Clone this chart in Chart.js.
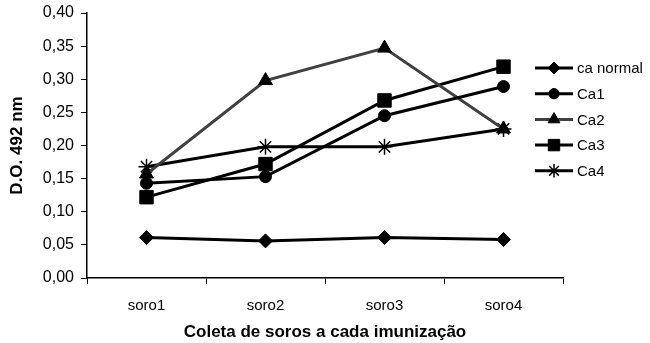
<!DOCTYPE html>
<html>
<head>
<meta charset="utf-8">
<script src="https://cdn.jsdelivr.net/npm/chart.js@4.4.1/dist/chart.umd.min.js"></script>
<style>
  html, body { margin: 0; padding: 0; background: #fff; }
  #wrap { width: 650px; height: 343px; position: relative; }
</style>
</head>
<body>
<div id="wrap"><canvas id="chart" width="650" height="343"></canvas></div>
<script>
// chart data
const categories = ['soro1', 'soro2', 'soro3', 'soro4'];
const seriesNames = ['ca normal', 'Ca1', 'Ca2', 'Ca3', 'Ca4'];
const caNormal = [0.061, 0.056, 0.061, 0.058];
const ca1 = [0.143, 0.153, 0.245, 0.289];
const ca2 = [0.157, 0.298, 0.347, 0.225];
const ca3 = [0.122, 0.172, 0.268, 0.319];
const ca4 = [0.168, 0.198, 0.198, 0.225];
const yTicks = [0, 0.05, 0.10, 0.15, 0.20, 0.25, 0.30, 0.35, 0.40];

const FONT = '"Liberation Sans", Arial, sans-serif';

function makeSet(label, data, style, radius, lineColor) {
    return {
        label: label,
        data: data,
        borderColor: lineColor || '#000',
        backgroundColor: '#000',
        pointBackgroundColor: '#000',
        pointBorderColor: '#000',
        pointBorderWidth: style === 'star' ? 1.5 : 1,
        pointStyle: style,
        pointRadius: radius,
        borderWidth: 3,
        tension: 0
    };
}

// Legend drawn at the right, like the original
const sideLegend = {
    id: 'sideLegend',
    afterDraw(chart) {
        const ctx = chart.ctx;
        const x0 = 535, x1 = 573, top = 68, step = 25.7;
        ctx.save();
        chart.data.datasets.forEach((ds, i) => {
            const y = top + i * step;
            ctx.strokeStyle = ds.borderColor;
            ctx.lineWidth = 3;
            ctx.beginPath();
            ctx.moveTo(x0, y);
            ctx.lineTo(x1, y);
            ctx.stroke();
            ctx.fillStyle = '#000';
            ctx.strokeStyle = '#000';
            ctx.lineWidth = ds.pointBorderWidth;
            Chart.helpers.drawPoint(ctx, {
                pointStyle: ds.pointStyle,
                radius: ds.pointRadius * 0.85,
                rotation: 0,
                borderWidth: ds.pointBorderWidth
            }, (x0 + x1) / 2, y);
            ctx.fillStyle = '#000';
            ctx.font = '15px ' + FONT;
            ctx.textBaseline = 'middle';
            ctx.textAlign = 'left';
            ctx.fillText(ds.label, x1 + 4, y + 1);
        });
        ctx.restore();
    }
};

const ctx = document.getElementById('chart').getContext('2d');
new Chart(ctx, {
    type: 'line',
    data: {
        labels: categories,
        datasets: [
            makeSet(seriesNames[0], caNormal, 'rectRot', 7),
            makeSet(seriesNames[1], ca1, 'circle', 6),
            makeSet(seriesNames[2], ca2, 'triangle', 8, '#404040'),
            makeSet(seriesNames[3], ca3, 'rect', 9.5),
            makeSet(seriesNames[4], ca4, 'star', 8)
        ]
    },
    plugins: [sideLegend],
    options: {
        responsive: false,
        animation: false,
        layout: { padding: { left: 0, right: 87, top: 13, bottom: 0 } },
        plugins: {
            legend: { display: false },
            tooltip: { enabled: false }
        },
        scales: {
            x: {
                offset: true,
                grid: {
                    offset: true,
                    drawOnChartArea: false,
                    drawTicks: true,
                    tickLength: 6,
                    color: '#000'
                },
                border: { color: '#000', width: 1.5 },
                ticks: {
                    color: '#000',
                    font: { family: FONT, size: 15 },
                    padding: 13,
                    maxRotation: 0
                },
                title: {
                    display: true,
                    text: 'Coleta de soros a cada imunização',
                    color: '#000',
                    font: { family: FONT, size: 17, weight: 'bold' },
                    padding: { top: 2, bottom: 0 }
                },
                afterFit(scale) { scale.height = 65; }
            },
            y: {
                min: 0,
                max: 0.40,
                afterBuildTicks(scale) {
                    scale.ticks = yTicks.map(v => ({ value: v }));
                },
                grid: {
                    drawOnChartArea: false,
                    drawTicks: true,
                    tickLength: 6,
                    color: '#000'
                },
                border: { color: '#000', width: 1.5 },
                ticks: {
                    color: '#000',
                    font: { family: FONT, size: 16 },
                    padding: 7,
                    callback: v => Number(v).toFixed(2).replace('.', ',')
                },
                title: {
                    display: true,
                    text: 'D.O. 492 nm',
                    color: '#000',
                    font: { family: FONT, size: 17, weight: 'bold' },
                    padding: { top: 7, bottom: 0 }
                },
                afterFit(scale) {
                    scale.width = 87;
                    scale.paddingTop = 0;
                    scale.paddingBottom = 0;
                }
            }
        }
    }
});
</script>
</body>
</html>
